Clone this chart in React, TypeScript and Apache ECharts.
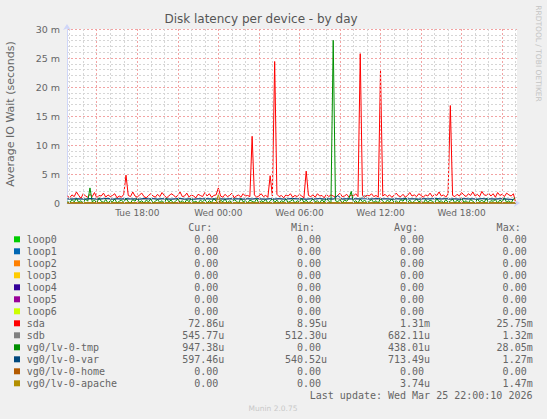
import React, { useEffect, useRef } from "react";
import * as echarts from "echarts";

// x values: hours since Tue 24 Mar 2026 00:00; y values: milliseconds
const X_MIN = 12.8; // Tue 12:48
const X_MAX = 46.1; // Wed 22:06
const DATA_START = 12 + 50 / 60; // Tue 12:50
const DATA_END = 46.0; // Wed 22:00
const STEP_10MIN = 1 / 6;
const STEP_20MIN = 1 / 3;

const X_TICK_HOURS = [18, 24, 30, 36, 42];
const X_TICK_LABELS = ["Tue 18:00", "Wed 00:00", "Wed 06:00", "Wed 12:00", "Wed 18:00"];
const Y_TICKS = [0, 5, 10, 15, 20, 25, 30];
const Y_TICK_LABELS = ["0", "5 m", "10 m", "15 m", "20 m", "25 m", "30 m"];

const SERIES_NAMES = [
  "loop0", "loop1", "loop2", "loop3", "loop4", "loop5", "loop6",
  "sda", "sdb", "vg0/lv-0-tmp", "vg0/lv-0-var", "vg0/lv-0-home", "vg0/lv-0-apache",
];
const SERIES_COLORS = [
  "#00CC00", "#0066B3", "#FF8000", "#FFCC00", "#330099", "#990099", "#CCFF00",
  "#FF0000", "#808080", "#008F00", "#00487D", "#B35A00", "#B38F00",
];
const CUR_VALUES = ["0.00", "0.00", "0.00", "0.00", "0.00", "0.00", "0.00", "72.86u", "545.77u", "947.38u", "597.46u", "0.00", "0.00"];
const MIN_VALUES = ["0.00", "0.00", "0.00", "0.00", "0.00", "0.00", "0.00", "8.95u", "512.30u", "0.00", "540.52u", "0.00", "0.00"];
const AVG_VALUES = ["0.00", "0.00", "0.00", "0.00", "0.00", "0.00", "0.00", "1.31m", "682.11u", "438.01u", "713.49u", "0.00", "3.74u"];
const MAX_VALUES = ["0.00", "0.00", "0.00", "0.00", "0.00", "0.00", "0.00", "25.75m", "1.32m", "28.05m", "1.27m", "0.00", "1.47m"];

// all-zero devices: flat from first to last sample
const ZERO_TIMES = [DATA_START, DATA_END];
const ZERO_VALUES = [0, 0];

// sda, 10-minute samples from Tue 12:50
const SDA_VALUES = [
  1.2, 0.9, 1.4, 1.1, 1.9, 1.3, 0.8, 1.6, 1.2, 1.0, 1.5, 1.1, 1.8, 0.9, 1.3, 1.2, 1.7, 1.0, 1.4, 1.1,
  1.3, 1.6, 0.9, 1.2, 1.0, 1.5, 4.8, 1.3, 1.1, 1.9, 1.2, 1.0, 1.4, 1.7, 1.1, 0.9, 1.3, 1.6, 1.2, 1.0,
  1.5, 1.1, 1.8, 1.3, 0.9, 1.2, 1.6, 1.4, 1.0, 1.3, 1.9, 1.1, 1.2, 1.7, 1.0, 1.4, 1.2, 0.9, 1.5, 1.3,
  1.1, 1.8, 1.2, 1.6, 1.0, 1.3, 1.4, 2.6, 1.2, 1.0, 1.5, 1.1, 1.3, 1.7, 0.9, 1.2, 1.4, 1.0, 1.6, 1.2,
  1.3, 1.1, 11.5, 1.4, 1.0, 1.2, 1.6, 1.1, 1.3, 1.0, 4.7, 1.2, 24.4, 1.5, 1.1, 1.3, 0.9, 1.4, 1.2, 1.6,
  1.0, 1.3, 1.1, 1.5, 1.2, 0.9, 5.5, 1.3, 1.1, 1.4, 1.0, 1.6, 1.2, 1.3, 0.9, 1.5, 1.1, 1.4, 1.2, 1.0,
  1.3, 1.7, 1.1, 1.2, 1.5, 1.0, 1.4, 1.2, 1.6, 1.1, 25.75, 1.3, 1.0, 1.4, 1.2, 1.6, 1.1, 1.3, 1.0, 22.9,
  1.2, 1.5, 1.1, 1.4, 1.0, 1.3, 1.7, 1.2, 1.1, 1.5, 1.0, 1.3, 1.8, 1.2, 1.4, 1.1, 1.6, 1.3, 1.0, 1.4,
  1.2, 1.7, 1.1, 1.5, 1.3, 1.9, 1.2, 1.4, 1.0, 1.6, 16.8, 1.3, 1.1, 1.5, 1.2, 1.8, 1.4, 1.1, 1.6, 1.3,
  1.9, 1.2, 1.5, 1.1, 2.0, 1.4, 1.3, 1.7, 1.2, 1.6, 1.0, 1.8, 1.3, 1.5, 1.1, 1.7, 1.4, 1.2, 1.6, 0.07,
];

// sdb, 20-minute samples from Tue 12:50
const SDB_VALUES = [
  0.66, 0.70, 0.63, 0.68, 0.72, 0.65, 0.69, 0.61, 0.74, 0.67,
  0.64, 0.71, 0.68, 0.62, 0.73, 0.66, 0.70, 0.64, 0.69, 0.75,
  0.63, 0.68, 0.71, 0.65, 0.67, 0.72, 0.62, 0.69, 0.66, 0.70,
  0.74, 0.64, 0.68, 0.61, 0.71, 0.67, 0.65, 0.73, 0.69, 0.63,
  0.70, 0.66, 0.72, 0.64, 0.68, 0.75, 0.62, 0.69, 0.67, 0.71,
  0.65, 0.73, 0.68, 0.63, 0.70, 0.66, 0.74, 0.64, 0.69, 0.67,
  0.72, 0.62, 0.68, 0.71, 0.65, 0.69, 1.32, 0.66, 0.70, 0.64,
  0.73, 0.67, 0.63, 0.71, 0.68, 0.65, 0.74, 0.69, 0.62, 0.70,
  0.66, 0.72, 0.64, 0.68, 0.75, 0.63, 0.69, 0.67, 0.71, 0.65,
  0.70, 0.62, 0.73, 0.66, 0.68, 0.64, 0.71, 0.67, 0.60, 0.55,
];

// vg0/lv-0-tmp, 10-minute samples from Tue 12:50
const TMP_VALUES = [
  0.3, 0.0, 0.6, 0.2, 0.8, 0.1, 0.4, 0.0, 0.7, 0.3, 2.6, 0.2, 0.5, 0.0, 0.9, 0.3, 0.1, 0.6, 0.0, 0.4,
  0.2, 0.7, 0.0, 0.3, 0.5, 0.1, 0.8, 0.2, 0.0, 0.6, 0.3, 0.9, 0.1, 0.4, 0.0, 0.5, 0.2, 0.7, 0.0, 0.3,
  0.6, 0.1, 0.4, 0.0, 0.8, 0.2, 0.5, 0.0, 0.3, 0.7, 0.1, 0.4, 0.0, 0.6, 0.2, 0.9, 0.1, 0.3, 0.0, 0.5,
  0.2, 0.6, 0.0, 0.4, 0.1, 0.8, 0.3, 0.0, 0.5, 0.2, 0.7, 0.0, 0.4, 0.1, 0.6, 0.3, 0.0, 0.8, 0.2, 0.4,
  0.0, 0.5, 0.3, 0.1, 0.7, 0.0, 0.4, 0.2, 0.6, 0.0, 0.3, 0.8, 0.1, 0.5, 0.0, 0.4, 0.2, 0.7, 0.1, 0.3,
  0.6, 0.0, 0.4, 0.2, 0.8, 0.1, 0.5, 0.0, 0.3, 0.7, 0.2, 0.4, 0.0, 0.6, 0.1, 0.9, 0.3, 0.0, 28.05, 0.4,
  0.2, 0.6, 0.0, 0.5, 0.3, 0.8, 2.0, 0.1, 0.4, 0.0, 0.7, 0.2, 0.5, 0.0, 0.3, 0.6, 0.1, 0.4, 0.0, 0.8,
  0.3, 0.0, 0.5, 0.2, 0.7, 0.1, 0.4, 0.0, 0.6, 0.3, 0.9, 0.1, 0.5, 0.0, 0.3, 0.7, 0.2, 0.4, 0.0, 0.6,
  0.1, 0.5, 0.3, 0.0, 0.8, 0.2, 0.4, 0.0, 0.6, 0.1, 0.3, 0.7, 0.0, 0.5, 0.2, 0.9, 0.1, 0.4, 0.0, 0.6,
  0.3, 0.0, 0.7, 0.2, 0.5, 0.1, 0.8, 0.0, 0.4, 0.3, 0.6, 0.0, 0.5, 0.2, 0.9, 0.1, 0.4, 0.0, 0.7, 0.95,
];

// vg0/lv-0-var, 20-minute samples from Tue 12:50
const VAR_VALUES = [
  0.72, 0.68, 0.75, 0.70, 0.66, 0.78, 0.71, 0.69, 0.74, 0.80,
  0.67, 0.73, 0.70, 0.76, 0.68, 0.72, 0.65, 0.79, 0.71, 0.74,
  0.69, 0.75, 0.70, 0.67, 0.73, 0.78, 0.68, 0.72, 0.66, 0.74,
  0.70, 0.76, 0.69, 0.73, 0.71, 0.67, 0.75, 0.70, 0.72, 0.68,
  0.74, 0.69, 0.77, 0.71, 0.66, 0.73, 0.70, 0.75, 0.68, 0.72,
  0.79, 0.70, 0.74, 0.67, 0.73, 0.71, 0.76, 0.69, 0.72, 0.68,
  1.27, 0.71, 0.74, 0.69, 0.75, 0.70, 0.73, 0.68, 0.72, 0.77,
  0.70, 0.74, 0.67, 0.73, 0.71, 0.76, 0.69, 0.72, 0.68, 0.75,
  0.71, 0.73, 0.78, 0.70, 0.74, 0.69, 0.72, 0.66, 0.75, 0.71,
  0.73, 0.68, 0.76, 0.70, 0.72, 0.69, 0.74, 0.71, 0.67, 0.60,
];

// vg0/lv-0-apache: zero except one sample at Wed 00:00
const APACHE_TIMES = [DATA_START, 23 + 50 / 60, 24, 24 + 10 / 60, DATA_END];
const APACHE_VALUES = [0, 0, 1.47, 0, 0];

const SANS = '"DejaVu Sans", sans-serif';
const MONO = '"DejaVu Sans Mono", monospace';
const TEXT_COLOR = "#666666";
const AXIS_COLOR = "#CFD6F8";
const MAJOR_GRID = "#F2A3A3";
const MINOR_GRID = "#D6D6D6";

const steps = (start: number, step: number, values: number[]) =>
  values.map((v, i) => [start + i * step, v]);
const zip = (times: number[], values: number[]) => times.map((t, i) => [t, values[i]]);

function seriesData(name: string): number[][] {
  switch (name) {
    case "sda":
      return steps(DATA_START, STEP_10MIN, SDA_VALUES);
    case "sdb":
      return steps(DATA_START, STEP_20MIN, SDB_VALUES);
    case "vg0/lv-0-tmp":
      return steps(DATA_START, STEP_10MIN, TMP_VALUES);
    case "vg0/lv-0-var":
      return steps(DATA_START, STEP_20MIN, VAR_VALUES);
    case "vg0/lv-0-apache":
      return zip(APACHE_TIMES, APACHE_VALUES);
    default:
      return zip(ZERO_TIMES, ZERO_VALUES);
  }
}

function buildOption() {
  const gridHours: number[] = [];
  for (let h = Math.ceil(X_MIN); h <= Math.floor(X_MAX); h++) gridHours.push(h);

  const gridSeries: any = {
    type: "line",
    name: "grid",
    z: 1,
    silent: true,
    data: [[DATA_START, 0]],
    showSymbol: false,
    lineStyle: { opacity: 0 },
    markLine: {
      silent: true,
      symbol: ["none", "none"],
      label: { show: false },
      emphasis: { disabled: true },
      animation: false,
      data: gridHours.map((h) => ({
        xAxis: h,
        lineStyle: {
          color: h % 3 === 0 ? MAJOR_GRID : MINOR_GRID,
          type: [2, 2],
          width: 1,
        },
      })),
    },
  };

  const dataSeries = SERIES_NAMES.map((name, i) => ({
    type: "line",
    name,
    z: 2,
    data: seriesData(name),
    showSymbol: false,
    symbol: "none",
    silent: true,
    lineStyle: { color: SERIES_COLORS[i], width: 1 },
    itemStyle: { color: SERIES_COLORS[i] },
    emphasis: { disabled: true },
  }));

  const graphics: any[] = [];
  const text = (x: number, y: number, t: string, o: any = {}) =>
    graphics.push({
      type: "text",
      x,
      y,
      rotation: o.rotation || 0,
      silent: true,
      style: {
        text: t,
        fill: o.fill || TEXT_COLOR,
        fontSize: o.fontSize || 10,
        fontFamily: o.fontFamily || MONO,
        align: o.align || "left",
        verticalAlign: "middle",
      },
    });

  text(261, 19, "Disk latency per device - by day", { fontFamily: SANS, fontSize: 12, align: "center", fill: "#555555" });
  text(10.5, 114, "Average IO Wait (seconds)", { fontFamily: SANS, fontSize: 11, align: "center", rotation: Math.PI / 2 });
  text(538.5, 53.5, "RRDTOOL / TOBI OETIKER", { fontFamily: SANS, fontSize: 7.5, align: "center", rotation: -Math.PI / 2, fill: "#C4C4C4" });

  const COLS = [218.3, 321, 424, 526.7];
  const HEADERS = ["Cur:", "Min:", "Avg:", "Max:"];
  const HEADER_Y = 227.3;
  HEADERS.forEach((h, c) => text(COLS[c] - 6, HEADER_Y, h, { align: "right" }));

  const columns = [CUR_VALUES, MIN_VALUES, AVG_VALUES, MAX_VALUES];
  SERIES_NAMES.forEach((name, k) => {
    const y = 239.3 + 12 * k;
    graphics.push({
      type: "rect",
      silent: true,
      shape: { x: 14, y: y - 3, width: 6, height: 6 },
      style: { fill: SERIES_COLORS[k] },
    });
    text(26.7, y, name);
    columns.forEach((col, c) => {
      const m = /^([\d.]+)([um]?)$/.exec(col[k]);
      const num = m ? m[1] : col[k];
      const unit = m ? m[2] : "";
      text(COLS[c], y, num, { align: "right" });
      if (unit) text(COLS[c], y, unit, { align: "left" });
    });
  });

  text(532.5, 395.7, "Last update: Wed Mar 25 22:00:10 2026", { align: "right" });
  text(273, 408.3, "Munin 2.0.75", { fontFamily: SANS, fontSize: 7.5, align: "center", fill: "#C8C8C8" });

  return {
    animation: false,
    backgroundColor: "#F0F0F0",
    grid: {
      left: 67,
      right: 30,
      top: 29,
      bottom: 216,
      show: true,
      backgroundColor: "#FFFFFF",
      borderWidth: 0,
    },
    xAxis: {
      type: "value",
      min: X_MIN,
      max: X_MAX,
      axisLine: {
        show: true,
        lineStyle: { color: AXIS_COLOR, width: 1 },
        symbol: ["none", "arrow"],
        symbolSize: [6, 6],
        symbolOffset: [0, 3],
      },
      axisTick: { show: false },
      splitLine: { show: false },
      axisLabel: {
        customValues: X_TICK_HOURS,
        formatter: (v: number) => {
          const idx = X_TICK_HOURS.indexOf(v);
          return idx >= 0 ? X_TICK_LABELS[idx] : "";
        },
        color: TEXT_COLOR,
        fontFamily: SANS,
        fontSize: 9,
        margin: 5,
      },
    },
    yAxis: {
      type: "value",
      min: 0,
      max: 30,
      interval: 5,
      axisLine: {
        show: true,
        lineStyle: { color: AXIS_COLOR, width: 1 },
        symbol: ["none", "arrow"],
        symbolSize: [6, 6],
        symbolOffset: [0, 5],
      },
      axisTick: { show: false },
      minorTick: { show: false, splitNumber: 5 },
      splitLine: { show: true, lineStyle: { color: MAJOR_GRID, type: [2, 2], width: 1 } },
      minorSplitLine: { show: true, lineStyle: { color: MINOR_GRID, type: [2, 2], width: 1 } },
      axisLabel: {
        formatter: (v: number) => {
          const idx = Y_TICKS.indexOf(v);
          return idx >= 0 ? Y_TICK_LABELS[idx] : "";
        },
        color: TEXT_COLOR,
        fontFamily: SANS,
        fontSize: 9.5,
        margin: 7,
      },
    },
    legend: { show: false },
    tooltip: { show: false },
    series: [gridSeries, ...dataSeries],
    graphic: graphics,
  };
}

export default function App() {
  const ref = useRef<HTMLDivElement>(null);
  useEffect(() => {
    document.body.style.margin = "0";
    const chart = echarts.init(ref.current as HTMLDivElement, null, { renderer: "svg" });
    chart.setOption(buildOption() as any);
    return () => chart.dispose();
  }, []);
  return (
    <div
      ref={ref}
      style={{ position: "absolute", left: 0, top: 0, width: 547, height: 419 }}
    />
  );
}
